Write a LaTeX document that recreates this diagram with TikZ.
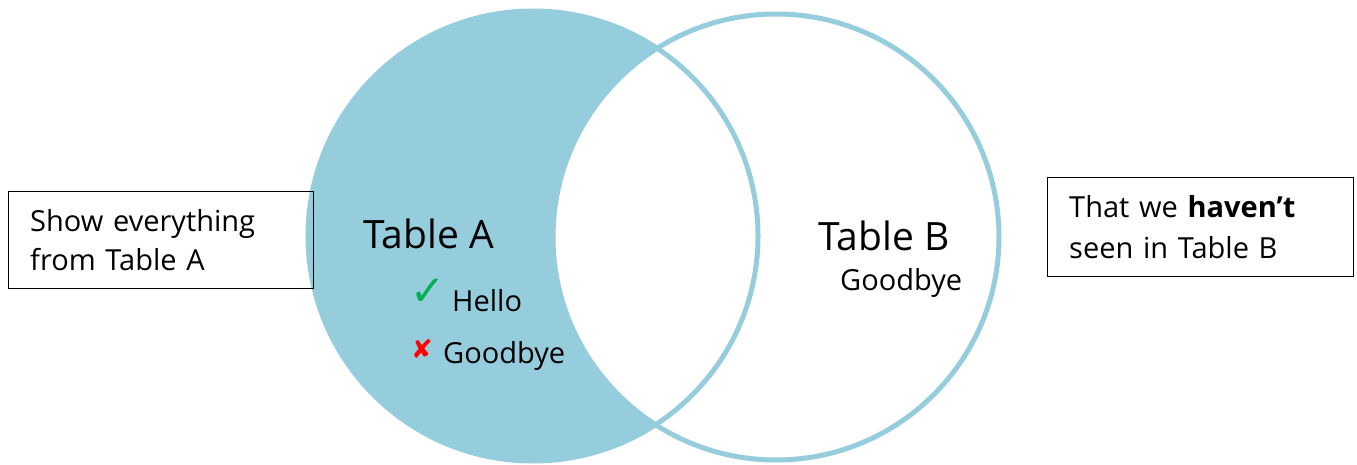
\documentclass[tikz,border=0pt]{standalone}
\usepackage{fontspec}
\setmainfont{Open Sans}
\newfontfamily\symfont{DejaVu Sans}
\definecolor{vennblue}{HTML}{96CDDD}
\definecolor{tickgreen}{HTML}{00B050}
\definecolor{crossred}{HTML}{FF0000}

\begin{document}
\begin{tikzpicture}[x=1pt,y=-1pt,
        notebox/.style={draw, line width=1.4pt, anchor=north west, minimum height=97pt,
                        text width=262pt, inner xsep=21pt, align=left,
                        font=\fontsize{29}{39}\selectfont},
        bigtitle/.style={anchor=base west, inner sep=0pt, font=\fontsize{39}{48}\selectfont},
        item/.style={anchor=base west, inner sep=0pt, font=\fontsize{29}{35}\selectfont}]
    \useasboundingbox (0,0) rectangle (1357,465);
    % the two sets
    \coordinate (ca) at (533,236);
    \coordinate (cb) at (776,237);
    \fill[vennblue] (ca) circle[radius=225pt];
    \fill[white] (cb) circle[radius=223pt];
    \draw[vennblue, line width=5pt] (ca) circle[radius=225pt];
    \draw[vennblue, line width=5pt] (cb) circle[radius=223pt];
    % labels
    \node[bigtitle] (ta) at (363,248) {Table A};
    \node[bigtitle] (tb) at (818,250) {Table B};
    \node[item] (hello) at (452,311) {Hello};
    \node[item] (bye) at (443,363) {Goodbye};
    \node[item] (byeb) at (840,290) {Goodbye};
    \node[anchor=base west, inner sep=0pt, text=tickgreen, font=\symfont\fontsize{42}{44}\selectfont] (tick) at (410,305) {✓};
    \node[anchor=base west, inner sep=0pt, text=crossred, font=\symfont\fontsize{26}{28}\selectfont] (cross) at (411,358) {✘};
    % side notes
    \node[notebox, minimum width=305pt] (noteA) at (8,191) {Show everything\\from Table A};
    \node[notebox, minimum width=306pt, minimum height=99pt, text width=263pt,
          font=\fontsize{29}{41}\selectfont] (noteB) at (1047,177) {That we \textbf{haven’t}\\seen in Table B};
\end{tikzpicture}
\end{document}
